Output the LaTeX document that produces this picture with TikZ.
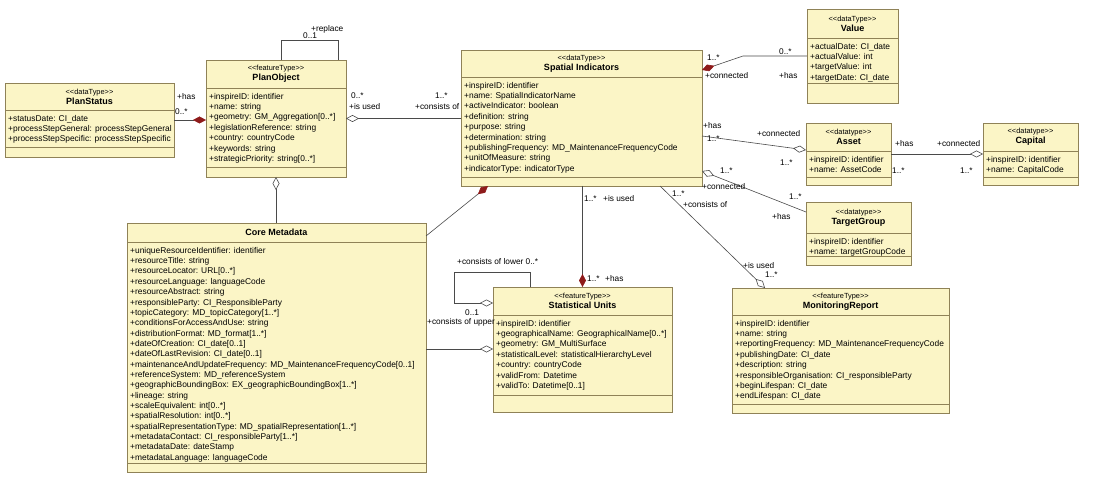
\documentclass[tikz,border=0pt]{standalone}
\usepackage{fontspec}
\setmainfont{Liberation Sans}
\usetikzlibrary{arrows.meta,calc}

\definecolor{boxfill}{HTML}{FBF5C6}
\definecolor{boxline}{HTML}{8F8257}
\definecolor{compred}{HTML}{8E1B1B}
\definecolor{linkgrey}{HTML}{4A4A4A}

\tikzset{
  classbox/.style={draw=boxline, fill=boxfill, line width=0.9pt, anchor=north west, inner sep=0pt, outer sep=0pt},
  classline/.style={draw=boxline, line width=0.9pt},
  classhead/.style={align=center, inner sep=0pt, font=\fontsize{9}{10}\selectfont},
  classattr/.style={anchor=north west, align=left, inner sep=0pt, font=\fontsize{8.4}{10.35}\selectfont},
  link/.style={draw=linkgrey, line width=0.6pt},
  comp/.style={link, -{Diamond[color=compred, length=13pt, width=7pt]}},
  aggr/.style={link, -{Diamond[fill=white, length=13pt, width=7pt]}},
  role/.style={anchor=west, inner sep=0pt, font=\fontsize{8.3}{9}\selectfont},
}

\newcommand\stereo[1]{{\fontsize{7.4}{8}\selectfont{<}{<}#1{>}{>}}}

% name, position, width, height, header height, end of attributes, header, attributes
\newcommand\umlclass[8]{%
  \node[classbox, minimum width=#3pt, minimum height=#4pt] (#1) at (#2) {};
  \draw[classline] ($(#1.north west)+(0,#5)$) -- ($(#1.north east)+(0,#5)$);
  \draw[classline] ($(#1.north west)+(0,#6)$) -- ($(#1.north east)+(0,#6)$);
  \node[classhead] (#1-head) at ($(#1.north)+(0,#5/2)$) {#7};
  \node[classattr] (#1-attr) at ($(#1.north west)+(3,#5+5)$) {#8};
}

\begin{document}
\begin{tikzpicture}[x=1pt, y=-1pt]
  \path[use as bounding box, fill=white] (0,0) rectangle (1094,478);

  % classes
  \umlclass{ps}{5,83}{169}{74}{27}{64}{\stereo{dataType}\\\textbf{PlanStatus}}
    {+statusDate: CI\_date\\+processStepGeneral: processStepGeneral\\+processStepSpecific: processStepSpecific}
  \umlclass{po}{206,60}{140}{117}{28}{107}{\stereo{featureType}\\\textbf{PlanObject}}
    {+inspireID: identifier\\+name: string\\+geometry: GM\_Aggregation[0..*]\\+legislationReference: string\\
     +country: countryCode\\+keywords: string\\+strategicPriority: string[0..*]}
  \umlclass{si}{461,50}{241}{136}{27}{127}{\stereo{dataType}\\\textbf{Spatial Indicators}}
    {+inspireID: identifier\\+name: SpatialIndicatorName\\+activeIndicator: boolean\\+definition: string\\
     +purpose: string\\+determination: string\\+publishingFrequency: MD\_MaintenanceFrequencyCode\\
     +unitOfMeasure: string\\+indicatorType: indicatorType}
  \umlclass{value}{807,9}{91}{94}{29}{74}{\stereo{dataType}\\\textbf{Value}}
    {+actualDate: CI\_date\\+actualValue: int\\+targetValue: int\\+targetDate: CI\_date}
  \umlclass{asset}{806,123}{85}{62}{28}{54}{\stereo{datatype}\\\textbf{Asset}}
    {+inspireID: identifier\\+name: AssetCode}
  \umlclass{capital}{983,123}{95}{62}{28}{54}{\stereo{datatype}\\\textbf{Capital}}
    {+inspireID: identifier\\+name: CapitalCode}
  \umlclass{tg}{806,202}{105}{63}{31}{54}{\stereo{datatype}\\\textbf{TargetGroup}}
    {+inspireID: identifier\\+name: targetGroupCode}
  \umlclass{cm}{127,223}{299}{249}{19}{240}{\textbf{Core Metadata}}
    {+uniqueResourceIdentifier: identifier\\+resourceTitle: string\\+resourceLocator: URL[0..*]\\
     +resourceLanguage: languageCode\\+resourceAbstract: string\\+responsibleParty: CI\_ResponsibleParty\\
     +topicCategory: MD\_topicCategory[1..*]\\+conditionsForAccessAndUse: string\\
     +distributionFormat: MD\_format[1..*]\\+dateOfCreation: CI\_date[0..1]\\
     +dateOfLastRevision: CI\_date[0..1]\\
     +maintenanceAndUpdateFrequency: MD\_MaintenanceFrequencyCode[0..1]\\
     +referenceSystem: MD\_referenceSystem\\+geographicBoundingBox: EX\_geographicBoundingBox[1..*]\\
     +lineage: string\\+scaleEquivalent: int[0..*]\\+spatialResolution: int[0..*]\\
     +spatialRepresentationType: MD\_spatialRepresentation[1..*]\\
     +metadataContact: CI\_responsibleParty[1..*]\\+metadataDate: dateStamp\\
     +metadataLanguage: languageCode}
  \umlclass{su}{493,287}{179}{125}{28}{108}{\stereo{featureType}\\\textbf{Statistical Units}}
    {+inspireID: identifier\\+geographicalName: GeographicalName[0..*]\\+geometry: GM\_MultiSurface\\
     +statisticalLevel: statisticalHierarchyLevel\\+country: countryCode\\+validFrom: Datetime\\
     +validTo: Datetime[0..1]}
  \umlclass{mr}{732,288}{217}{125}{27}{116}{\stereo{featureType}\\\textbf{MonitoringReport}}
    {+inspireID: identifier\\+name: string\\+reportingFrequency: MD\_MaintenanceFrequencyCode\\
     +publishingDate: CI\_date\\+description: string\\+responsibleOrganisation: CI\_responsibleParty\\
     +beginLifespan: CI\_date\\+endLifespan: CI\_date}

  % associations
  \draw[comp] (ps.east) -- (ps.east -| po.west);
  \node[role] (ps-has) at (177,97) {+has};
  \node[role] (ps-mult) at (175,112) {0..*};

  \draw[link] ($(po.north west)+(75,0)$) -- ++(0,-20) -| ($(po.north west)+(132,0)$);
  \node[role] (po-replace) at (311,29) {+replace};
  \node[role] (po-rmult) at (303,36) {0..1};

  \draw[aggr] (po.east -| si.west) -- (po.east);
  \node[role] (po-mult) at (351,96) {0..*};
  \node[role] (po-used) at (349,107) {+is used};
  \node[role] (si-pmult) at (435,96) {1..*};
  \node[role] (si-cons) at (415,107) {+consists of};

  \draw[aggr] (po.south |- cm.north) -- (po.south);

  \draw[comp] ($(cm.north east)+(0,13)$) -- ($(si.south west)+(27,0)$);

  \coordinate (su-in) at ($(su.north west)+(0,62)$);
  \draw[aggr] (cm.east |- su-in) -- (su-in);

  \draw[aggr] ($(su.north west)+(37,0)$) -- ++(0,-15) -| ($(su.north west)+(-39,16)$) -- ($(su.north west)+(0,16)$);
  \node[role] (su-lower) at (457,262) {+consists of lower 0..*};
  \node[role] (su-umult) at (465,313) {0..1};
  \node[role] (su-upper) at (427,322) {+consists of upper};

  \draw[comp] (su.north |- si.south) -- (su.north);
  \node[role] (si-smult) at (584,199) {1..*};
  \node[role] (si-used) at (603,199) {+is used};
  \node[role] (su-mult) at (587,279) {1..*};
  \node[role] (su-has) at (605,279) {+has};

  \draw[aggr] ($(si.south west)+(199,0)$) -- ($(mr.north west)+(33,0)$);
  \node[role] (si-mmult) at (672,194) {1..*};
  \node[role] (si-mcons) at (683,205) {+consists of};
  \node[role] (mr-used) at (743,266) {+is used};
  \node[role] (mr-mult) at (765,275) {1..*};

  \draw[comp] (value.west) -- ++(-64,0) -- ($(si.north east)+(0,20)$);
  \node[role] (si-vmult) at (707,58) {1..*};
  \node[role] (si-vconn) at (705,76) {+connected};
  \node[role] (value-mult) at (779,52) {0..*};
  \node[role] (value-has) at (779,76) {+has};

  \draw[aggr] ($(si.north east)+(0,86)$) -- ($(asset.north west)+(0,27)$);
  \node[role] (si-ahas) at (703,126) {+has};
  \node[role] (si-amult) at (707,139) {1..*};
  \node[role] (asset-conn) at (757,134) {+connected};
  \node[role] (asset-mult) at (780,163) {1..*};

  \draw[aggr] ($(tg.north west)+(0,10)$) -- ($(si.north east)+(0,121)$);
  \node[role] (si-tmult) at (720,171) {1..*};
  \node[role] (si-tconn) at (702,187) {+connected};
  \node[role] (tg-mult) at (789,197) {1..*};
  \node[role] (tg-has) at (772,217) {+has};

  \draw[aggr] (asset.east) -- (asset.east -| capital.west);
  \node[role] (asset-has) at (895,144) {+has};
  \node[role] (capital-conn) at (937,144) {+connected};
  \node[role] (asset-cmult) at (892,171) {1..*};
  \node[role] (capital-mult) at (960,171) {1..*};
\end{tikzpicture}
\end{document}
